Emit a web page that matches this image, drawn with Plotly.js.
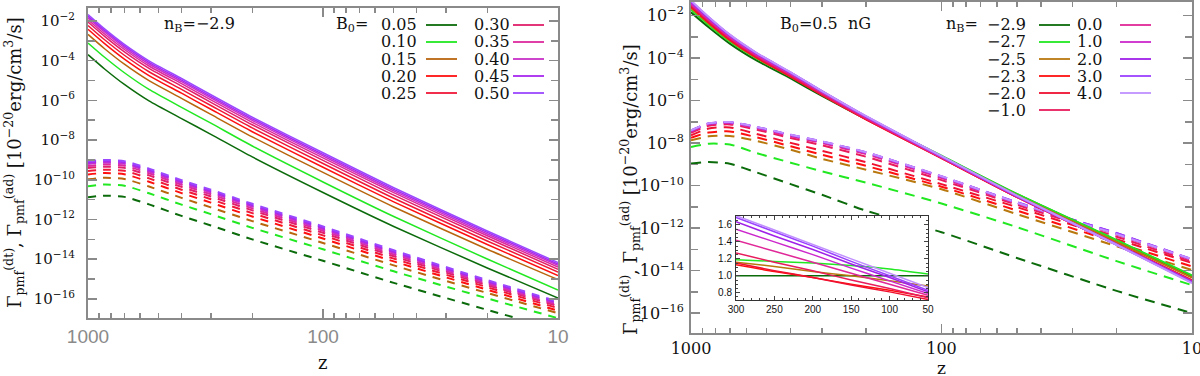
<!DOCTYPE html>
<html>
<head>
<meta charset="utf-8">
<script src="https://cdn.plot.ly/plotly-3.0.1.min.js"></script>
<style>
  body { margin: 0; background: #fff; }
  #chart { width: 1200px; height: 376px; }
</style>
</head>
<body>
<div id="chart"></div>
<script>
// redshift grid used for the main panels
const zMain = [1000, 850, 700, 550, 400, 300, 200, 100, 50, 20, 10]

// left panel: nB = -2.9, one row per B0 (log10 of the rate)
const leftLabels = ['0.05', '0.10', '0.15', '0.20', '0.25', '0.30', '0.35', '0.40', '0.45', '0.50']
const leftDt = [
  [-3.70, -4.42, -5.20, -6.03, -6.92, -7.71, -8.85, -10.64, -12.35, -14.44, -15.95],
  [-3.11, -3.83, -4.61, -5.45, -6.35, -7.15, -8.30, -10.11, -11.85, -13.99, -15.55],
  [-2.68, -3.40, -4.18, -5.01, -5.90, -6.71, -7.84, -9.63, -11.37, -13.50, -15.03],
  [-2.42, -3.14, -3.92, -4.75, -5.64, -6.45, -7.58, -9.37, -11.11, -13.26, -14.82],
  [-2.23, -2.95, -3.73, -4.56, -5.45, -6.26, -7.39, -9.18, -10.93, -13.08, -14.65],
  [-2.06, -2.78, -3.56, -4.39, -5.28, -6.10, -7.23, -9.02, -10.77, -12.93, -14.51],
  [-1.94, -2.66, -3.44, -4.27, -5.16, -5.98, -7.11, -8.90, -10.65, -12.82, -14.40],
  [-1.84, -2.56, -3.34, -4.17, -5.06, -5.88, -7.01, -8.80, -10.56, -12.73, -14.31],
  [-1.76, -2.48, -3.26, -4.09, -4.98, -5.80, -6.93, -8.72, -10.48, -12.65, -14.24],
  [-1.68, -2.40, -3.18, -4.01, -4.90, -5.72, -6.85, -8.64, -10.40, -12.58, -14.17]
]
const leftAd = [
  [-10.88, -10.80, -10.86, -11.24, -11.82, -12.30, -13.00, -14.08, -15.19, -16.55, -17.56],
  [-10.32, -10.24, -10.30, -10.68, -11.25, -11.73, -12.42, -13.50, -14.61, -15.97, -16.97],
  [-9.98, -9.90, -9.96, -10.34, -10.91, -11.39, -12.08, -13.18, -14.31, -15.70, -16.72],
  [-9.73, -9.66, -9.72, -10.10, -10.67, -11.15, -11.85, -12.96, -14.11, -15.54, -16.59],
  [-9.56, -9.49, -9.55, -9.93, -10.50, -10.98, -11.68, -12.80, -13.97, -15.41, -16.46],
  [-9.41, -9.34, -9.40, -9.78, -10.36, -10.84, -11.54, -12.67, -13.85, -15.31, -16.36],
  [-9.31, -9.23, -9.29, -9.67, -10.25, -10.73, -11.44, -12.57, -13.76, -15.24, -16.31],
  [-9.21, -9.14, -9.20, -9.58, -10.16, -10.64, -11.35, -12.49, -13.68, -15.17, -16.24],
  [-9.14, -9.07, -9.13, -9.51, -10.09, -10.57, -11.28, -12.42, -13.62, -15.11, -16.19],
  [-9.07, -9.00, -9.06, -9.44, -10.02, -10.50, -11.21, -12.35, -13.55, -15.05, -16.13]
]

// right panel: B0 = 0.5 nG, one row per nB
const rightLabels = ['\u22122.9', '\u22122.7', '\u22122.5', '\u22122.3', '\u22122.0', '\u22121.0', '0.0', '1.0', '2.0', '3.0', '4.0']
const rightDt = [
  [-1.85, -2.55, -3.32, -4.10, -4.96, -5.78, -6.87, -8.62, -10.40, -12.58, -14.25],
  [-1.73, -2.44, -3.22, -4.00, -4.87, -5.70, -6.81, -8.59, -10.39, -12.56, -14.22],
  [-1.64, -2.37, -3.17, -3.98, -4.87, -5.72, -6.85, -8.65, -10.46, -12.65, -14.33],
  [-1.58, -2.33, -3.14, -3.96, -4.87, -5.73, -6.88, -8.70, -10.53, -12.75, -14.45],
  [-1.56, -2.31, -3.12, -3.95, -4.86, -5.72, -6.88, -8.71, -10.54, -12.76, -14.46],
  [-1.51, -2.25, -3.07, -3.90, -4.81, -5.68, -6.85, -8.69, -10.53, -12.76, -14.48],
  [-1.45, -2.20, -3.02, -3.85, -4.76, -5.63, -6.81, -8.67, -10.51, -12.76, -14.50],
  [-1.40, -2.15, -2.97, -3.80, -4.72, -5.59, -6.77, -8.65, -10.50, -12.77, -14.52],
  [-1.35, -2.11, -2.93, -3.77, -4.69, -5.57, -6.75, -8.63, -10.49, -12.77, -14.54],
  [-1.32, -2.08, -2.91, -3.75, -4.68, -5.55, -6.74, -8.62, -10.48, -12.78, -14.56],
  [-1.30, -2.07, -2.90, -3.74, -4.67, -5.55, -6.73, -8.61, -10.47, -12.78, -14.58]
]
const rightAd = [
  [-8.96, -8.89, -8.97, -9.37, -9.93, -10.43, -11.18, -12.19, -13.40, -14.95, -16.00],
  [-8.18, -8.03, -8.06, -8.46, -8.92, -9.33, -9.86, -10.84, -11.95, -13.55, -14.68],
  [-7.87, -7.68, -7.66, -7.89, -8.31, -8.74, -9.25, -10.17, -11.34, -12.85, -13.97],
  [-7.75, -7.50, -7.45, -7.72, -8.15, -8.55, -9.07, -10.05, -11.17, -12.68, -13.80],
  [-7.63, -7.31, -7.26, -7.56, -7.99, -8.36, -8.90, -9.93, -11.01, -12.52, -13.64],
  [-7.52, -7.18, -7.12, -7.36, -7.76, -8.10, -8.64, -9.74, -10.90, -12.40, -13.58],
  [-7.46, -7.12, -7.06, -7.29, -7.68, -8.00, -8.52, -9.64, -10.84, -12.30, -13.50],
  [-7.42, -7.09, -7.03, -7.25, -7.63, -7.94, -8.45, -9.58, -10.80, -12.26, -13.48],
  [-7.41, -7.08, -7.02, -7.24, -7.62, -7.93, -8.44, -9.57, -10.79, -12.24, -13.47],
  [-7.40, -7.07, -7.01, -7.23, -7.61, -7.92, -8.43, -9.56, -10.78, -12.23, -13.46],
  [-7.40, -7.07, -7.01, -7.23, -7.61, -7.92, -8.43, -9.56, -10.80, -12.28, -13.46]
]

// inset: ratio to the nB = -2.9 curve
const zInset = [300, 250, 200, 150, 100, 50]
const insetRatio = [
  [1.00, 1.00, 1.00, 1.00, 1.00, 1.00],
  [1.19, 1.17, 1.15, 1.12, 1.08, 1.02],
  [1.16, 1.11, 1.05, 1.00, 0.94, 0.88],
  [1.13, 1.05, 0.98, 0.90, 0.83, 0.75],
  [1.15, 1.06, 0.98, 0.89, 0.81, 0.72],
  [1.27, 1.16, 1.06, 0.95, 0.85, 0.74],
  [1.42, 1.29, 1.16, 1.03, 0.90, 0.77],
  [1.55, 1.40, 1.25, 1.09, 0.94, 0.79],
  [1.64, 1.47, 1.31, 1.14, 0.98, 0.81],
  [1.69, 1.52, 1.35, 1.17, 1.00, 0.83],
  [1.71, 1.54, 1.37, 1.20, 1.03, 0.86]
]

const leftColors = ['#0b6b0b', '#22e822', '#b8650e', '#ff1010', '#f01838', '#e0206a', '#dc2a9c', '#c830c8', '#a828ee', '#9a48ff']
const rightColors = ['#0b6b0b', '#22e822', '#b8780e', '#ff1010', '#f01030', '#e81c5c', '#e02898', '#cc28cc', '#a020e8', '#9a40ff', '#c090ff']

const W = 1200, H = 376
const pow10 = arr => arr.map(v => Math.pow(10, v))
const px = x => x / W
const py = y => 1 - y / H

var data = []
leftAd.forEach((row, i) => data.push({
  x: zMain, y: pow10(row), xaxis: 'x', yaxis: 'y', mode: 'lines',
  line: { color: leftColors[i], width: 2, dash: '8px,7px', shape: 'spline', smoothing: 0.6 }
}))
leftDt.forEach((row, i) => data.push({
  x: zMain, y: pow10(row), xaxis: 'x', yaxis: 'y', mode: 'lines',
  line: { color: leftColors[i], width: 1.5, shape: 'spline', smoothing: 0.6 }
}))
rightAd.forEach((row, i) => data.push({
  x: zMain, y: pow10(row), xaxis: 'x2', yaxis: 'y2', mode: 'lines',
  line: { color: rightColors[i], width: 2, dash: '10px,7px', shape: 'spline', smoothing: 0.6 }
}))
rightDt.forEach((row, i) => data.push({
  x: zMain, y: pow10(row), xaxis: 'x2', yaxis: 'y2', mode: 'lines',
  line: { color: rightColors[i], width: 2, shape: 'spline', smoothing: 0.6 }
}))
insetRatio.forEach((row, i) => data.push({
  x: zInset, y: row, xaxis: 'x3', yaxis: 'y3', mode: 'lines',
  line: { color: rightColors[i], width: 1.5, shape: 'spline', smoothing: 0.6 }
}))

// log tick labels every two decades, bare ticks in between
var decades = [], oddDecades = [], decadeText = []
for (var e = -16; e <= -2; e += 2) {
  decades.push(Math.pow(10, e))
  decadeText.push('10<sup>\u2212' + (-e) + '</sup>')
}
for (var e = -15; e <= -3; e += 2) oddDecades.push(Math.pow(10, e))
var zMinor = [900, 800, 700, 600, 500, 400, 300, 200, 90, 80, 70, 60, 50, 40, 30, 20]

var frame = '#8a8a8a'
function logY (domain, range, size, standoff) {
  return {
    type: 'log', domain: domain, range: range, tickmode: 'array',
    tickvals: decades, ticktext: decadeText, ticks: 'inside', ticklen: 9,
    tickcolor: frame, tickwidth: 1.5, mirror: 'ticks', showline: true,
    linecolor: frame, linewidth: 2, showgrid: false, zeroline: false,
    ticklabelstandoff: standoff,
    tickfont: { family: 'DejaVu Serif', size: size, color: '#111' },
    minor: { tickmode: 'array', tickvals: oddDecades, ticks: 'inside', ticklen: 7, tickcolor: frame, tickwidth: 1.5 }
  }
}
function logX (domain, anchor, font) {
  return {
    type: 'log', domain: domain, anchor: anchor, range: [3, 1], tickmode: 'array',
    tickvals: [1000, 100, 10], ticktext: ['1000', '100', '10'],
    ticks: 'inside', ticklen: 9, tickcolor: frame, tickwidth: 1.5, mirror: 'ticks',
    showline: true, linecolor: frame, linewidth: 2, showgrid: false, zeroline: false,
    tickfont: font, ticklabeloverflow: 'allow',
    minor: { tickmode: 'array', tickvals: zMinor, ticks: 'inside', ticklen: 5, tickcolor: frame, tickwidth: 1.5 }
  }
}

var serif = { family: 'DejaVu Serif', size: 16, color: '#111' }
function note (text, x, y, anchor, font) {
  return { text: text, x: px(x), y: py(y), xref: 'paper', yref: 'paper', showarrow: false,
    xanchor: anchor || 'center', yanchor: 'middle', font: font || serif, borderpad: 0 }
}

var annotations = [
  note('n<sub>B</sub>=\u22122.9', 199, 25),
  note('B<sub>0</sub>=', 369, 25, 'right'),
  note('B<sub>0</sub>=0.5  nG', 825, 25),
  note('n<sub>B</sub>=', 979, 25, 'right'),
  note('z', 322, 362, 'center', { family: 'DejaVu Serif', size: 18, color: '#111' }),
  note('z', 941, 368, 'center', { family: 'DejaVu Serif', size: 17, color: '#111' })
]
var yTitle = '\u0393<sub>pmf</sub><sup>(dt)</sup>, \u0393<sub>pmf</sub><sup>(ad)</sup> [10<sup>\u221220</sup>erg/cm<sup>3</sup>/s]'
annotations.push(Object.assign(note(yTitle, 14, 163, 'center', { family: 'DejaVu Serif', size: 18, color: '#111' }), { textangle: -90 }))
annotations.push(Object.assign(note(yTitle, 630, 190, 'center', { family: 'DejaVu Serif', size: 18, color: '#111' }), { textangle: -90 }))

// legend rows (drawn as text plus short line segments)
var shapes = []
var rowY = [25, 42, 59, 76, 93, 110]
leftLabels.forEach((lab, i) => {
  var col = Math.floor(i / 5), r = i % 5
  var xText = col === 0 ? 418 : 511
  var x0 = col === 0 ? 426 : 513
  annotations.push(note(lab, xText, rowY[r], 'right'))
  shapes.push({ type: 'line', xref: 'paper', yref: 'paper', x0: px(x0), x1: px(x0 + 31), y0: py(rowY[r]), y1: py(rowY[r]),
    line: { color: leftColors[i], width: 1.8 } })
})
rightLabels.forEach((lab, i) => {
  var col = i < 6 ? 0 : 1, r = i < 6 ? i : i - 6
  var xText = col === 0 ? 1027 : 1103
  var x0 = col === 0 ? 1039 : 1120
  annotations.push(note(lab, xText, rowY[r], 'right'))
  shapes.push({ type: 'line', xref: 'paper', yref: 'paper', x0: px(x0), x1: px(x0 + 31), y0: py(rowY[r]), y1: py(rowY[r]),
    line: { color: rightColors[i], width: 1.8 } })
})

var insetFont = { family: 'Liberation Sans', size: 10, color: '#111' }
var layout = {
  width: W, height: H,
  margin: { l: 0, r: 0, t: 0, b: 0 },
  paper_bgcolor: '#fff', plot_bgcolor: '#fff',
  showlegend: false,
  xaxis: logX([px(88), px(558)], 'y', { family: 'Liberation Sans', size: 19, color: '#8a8a8a' }),
  yaxis: logY([py(318), py(8)], [-16.96, -1.35], 15, 8),
  xaxis2: logX([px(691), px(1192)], 'y2', { family: 'DejaVu Serif', size: 16, color: '#111' }),
  yaxis2: Object.assign(logY([py(333), py(1.5)], [-16.93, -1.34], 16, 2), { anchor: 'x2' }),
  xaxis3: {
    domain: [px(736), px(928)], anchor: 'y3', range: [300, 50],
    tickvals: [300, 250, 200, 150, 100, 50], ticks: 'inside', ticklen: 4, mirror: 'ticks',
    showline: true, linecolor: '#333', linewidth: 1, showgrid: false, zeroline: false,
    tickfont: insetFont, minor: { dtick: 10, ticks: 'inside', ticklen: 2 }
  },
  yaxis3: {
    domain: [py(300), py(216)], anchor: 'x3', range: [0.714, 1.706],
    tickvals: [0.8, 1.0, 1.2, 1.4, 1.6], ticktext: ['0.8', '1.0', '1.2', '1.4', '1.6'],
    ticks: 'inside', ticklen: 4, mirror: 'ticks', ticklabelstandoff: 1,
    showline: true, linecolor: '#333', linewidth: 1, showgrid: false, zeroline: false,
    tickfont: insetFont, minor: { dtick: 0.05, ticks: 'inside', ticklen: 2 }
  },
  annotations: annotations,
  shapes: shapes
}

Plotly.newPlot('chart', data, layout, { staticPlot: true })
</script>
</body>
</html>
